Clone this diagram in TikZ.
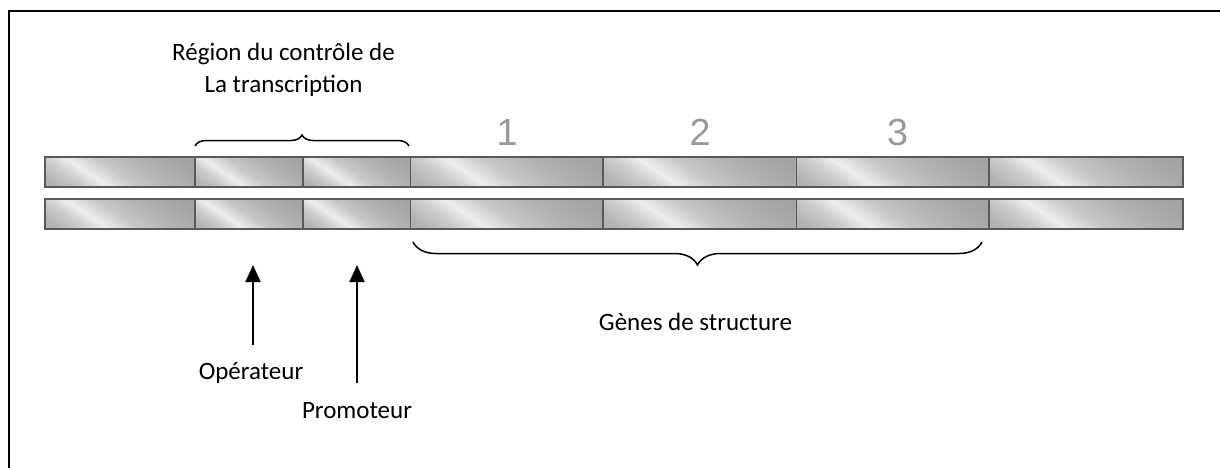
\documentclass[tikz,border=0pt]{standalone}
\usepackage{fontspec}
\setmainfont{Carlito}
\newfontfamily\arialf{Liberation Sans}
\usetikzlibrary{decorations.pathreplacing,arrows.meta}
\pgfdeclarehorizontalshading{barsh}{100bp}{%
  rgb(0bp)=(0.68,0.68,0.68);
  rgb(20bp)=(0.70,0.70,0.70);
  rgb(30bp)=(0.80,0.80,0.80);
  rgb(38bp)=(0.93,0.93,0.93);
  rgb(49bp)=(0.78,0.78,0.78);
  rgb(62bp)=(0.70,0.70,0.70);
  rgb(80bp)=(0.64,0.64,0.64);
  rgb(100bp)=(0.64,0.64,0.64)}
\begin{document}
\begin{tikzpicture}[x=1pt,y=1pt,
  cell/.style={rectangle, shade, shading=barsh, shading angle=56,
    draw=black!65, line width=1.2pt, inner sep=0pt, outer sep=0pt,
    anchor=north west, minimum height=30pt},
  lbl/.style={font=\fontsize{25}{32}\selectfont, inner sep=0pt, anchor=base},
  num/.style={font=\arialf\fontsize{37.7}{40}\selectfont, text=black!40,
    inner sep=0pt, anchor=base},
  brc/.style={decorate, line width=1.5pt},
  arr/.style={-{Triangle[width=15pt,length=17pt]}, line width=2pt}]
\useasboundingbox (0,0) rectangle (1220,-467);
\draw[line width=2pt] (1221,-11) -- (9,-11) -- (9,-468);

\foreach [count=\i] \a/\b in {45/195,195/303,303/410.5,410.5/603,603/796.5,796.5/989,989/1183} {
  \node[cell, minimum width=\b-\a] (t\i) at (\a,-157) {};
  \node[cell, minimum width=\b-\a] (b\i) at (\a,-199) {};
}

\node[lbl] (reg1) at (283.5,-60) {Région du contrôle de};
\node[lbl] (reg2) at (283.5,-92) {La transcription};

\node[num] (n1) at (507,-145) {1};
\node[num] (n2) at (700,-145) {2};
\node[num] (n3) at (897.5,-145) {3};

\coordinate (ubA) at (195,-146);
\coordinate (ubB) at (409,-146);
\draw[brc, decoration={brace, amplitude=11pt}] (ubA) -- (ubB);

\coordinate (lbA) at (982,-242);
\coordinate (lbB) at (413,-242);
\draw[brc, decoration={brace, amplitude=23pt}] (lbA) -- (lbB);

\node[lbl] (genes) at (695.5,-330) {Gènes de structure};
\node[lbl] (op) at (251,-379) {Opérateur};
\node[lbl] (pr) at (357,-418) {Promoteur};

\coordinate (opTail) at (253,-345);
\coordinate (opTip) at (253,-265);
\coordinate (prTail) at (357,-383);
\coordinate (prTip) at (357,-265);
\draw[arr] (opTail) -- (opTip);
\draw[arr] (prTail) -- (prTip);
\end{tikzpicture}
\end{document}
